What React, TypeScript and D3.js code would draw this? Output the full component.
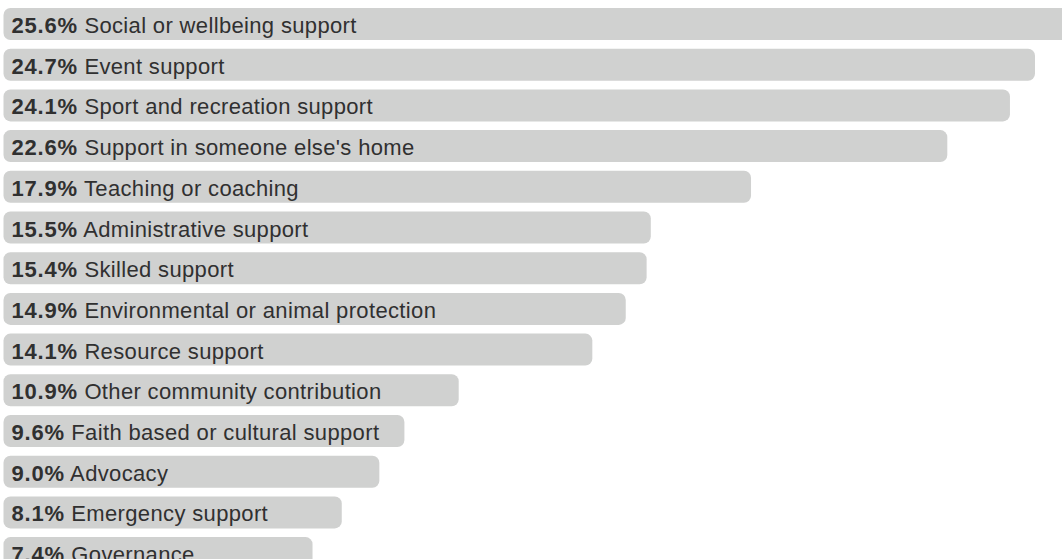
import React from "react";
import * as d3 from "d3";

const categories = [
  "Social or wellbeing support",
  "Event support",
  "Sport and recreation support",
  "Support in someone else's home",
  "Teaching or coaching",
  "Administrative support",
  "Skilled support",
  "Environmental or animal protection",
  "Resource support",
  "Other community contribution",
  "Faith based or cultural support",
  "Advocacy",
  "Emergency support",
  "Governance",
];
const values = [25.6, 24.7, 24.1, 22.6, 17.9, 15.5, 15.4, 14.9, 14.1, 10.9, 9.6, 9.0, 8.1, 7.4];

const W = 1062;
const H = 559;

export default function App() {
  const x = d3.scaleLinear().domain([0, 24.7]).range([3.5, 1035]);
  const step = 40.7;
  const y = d3
    .scaleLinear()
    .domain([0, 1])
    .range([8, 8 + step]);
  const bh = 32;
  return (
    <svg
      width={W}
      height={H}
      style={{ position: "absolute", left: 0, top: 0, background: "#fff" }}
      fontFamily="'Liberation Sans', Arial, Helvetica, sans-serif"
    >
      {values.map((v, i) => {
        const top = y(i);
        const w = x(v) - x(0);
        return (
          <g key={i}>
            <rect x={x(0)} y={top} width={w} height={bh} rx={7} ry={7} fill="#d0d1d0" />
            <text x={11.5} y={top + 25} fontSize={22} letterSpacing={0.35} fill="#303030">
              <tspan fontWeight="bold" letterSpacing={0.8}>{v.toFixed(1)}%</tspan>
              <tspan> {categories[i]}</tspan>
            </text>
          </g>
        );
      })}
    </svg>
  );
}
